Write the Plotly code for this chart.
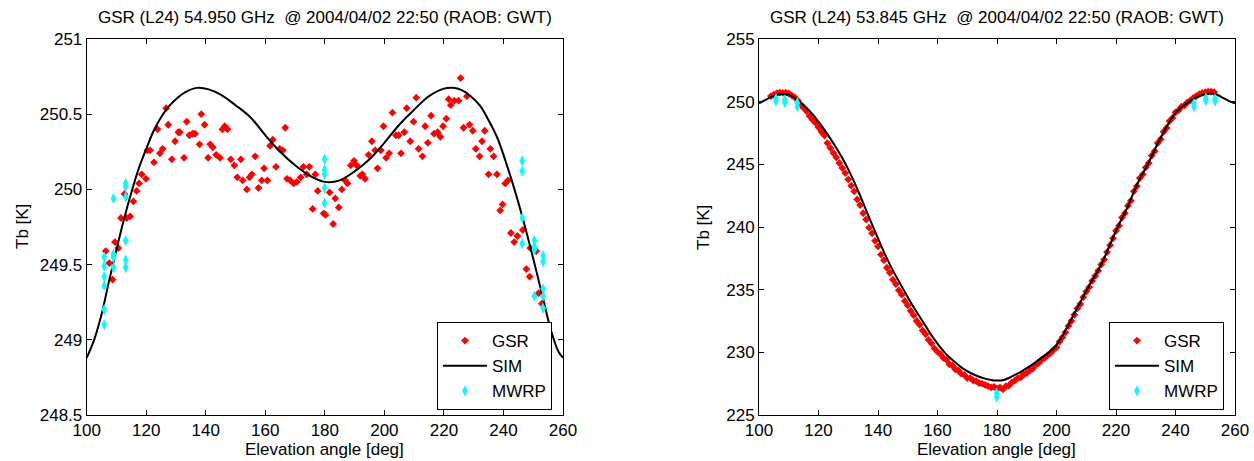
import plotly.graph_objects as go

# ---------------- Left panel: 54.950 GHz ----------------
sim1_x = [100, 102.5, 105, 107.5, 110, 112.5, 115, 117.5, 120, 122.5, 125, 127.5, 130, 133, 137,
          141, 145, 150, 155, 160, 165, 170, 175, 180, 185, 190, 195, 200, 205, 210, 215, 220,
          223, 226, 229, 232, 235, 238, 241, 244, 247, 250, 253, 256, 258.5, 260]
sim1_y = [248.88, 249.0, 249.17, 249.39, 249.6, 249.8, 249.98, 250.14, 250.27, 250.39, 250.48,
          250.55, 250.6, 250.645, 250.675, 250.665, 250.63, 250.56, 250.48, 250.36, 250.25,
          250.16, 250.09, 250.05, 250.06, 250.12, 250.2, 250.31, 250.43, 250.53, 250.62, 250.67,
          250.676, 250.66, 250.62, 250.56, 250.46, 250.34, 250.17, 249.98, 249.77, 249.54, 249.3,
          249.06, 248.92, 248.88]

gsr1_x = [106.4, 107.6, 108.7, 109.5, 110.6, 111.5, 112.7, 113.4, 114.6, 115.7, 116.8, 117.6,
          118.5, 119.9, 120.4, 121.3, 122.6, 123.8, 124.6, 125.5, 126.7, 127.4, 128.6, 129.7,
          130.8, 131.3, 132.7, 133.6, 134.5, 135.6, 136.4, 137.9, 138.5, 139.6, 140.8, 141.5,
          142.4, 143.5, 144.8, 145.6, 146.4, 147.3, 148.4, 149.6, 150.6, 151.8, 152.4, 153.8,
          154.7, 155.5, 156.6, 157.7, 158.8, 159.6, 160.7, 161.6, 162.5, 163.6, 164.8, 165.9,
          166.7, 167.3, 168.4, 169.5, 170.6, 171.9, 172.8, 173.9, 174.8, 175.9, 176.8, 177.6,
          179.6, 180.2, 181.6, 182.8, 183.5, 184.7, 185.7, 186.8, 187.6, 188.7, 189.8, 190.7,
          191.9, 192.6, 193.5, 194.7, 195.8, 196.9, 197.7, 198.8, 199.7, 200.6, 201.6, 202.7,
          203.9, 204.8, 205.6, 206.7, 207.5, 208.7, 209.8, 210.7, 211.5, 212.8, 213.7, 214.6,
          215.7, 216.7, 217.9, 218.8, 219.7, 220.8, 221.6, 222.3, 223.5, 224.9, 225.6, 226.6,
          227.7, 228.6, 229.7, 230.7, 232.0, 232.8, 233.7, 235.0, 235.6, 236.7, 237.8, 238.9,
          239.7, 240.6, 241.5, 242.5, 243.6, 244.7, 246.5, 247.7, 248.8, 249.0, 251.0, 251.8,
          252.9]
gsr1_y = [249.59, 249.51, 249.40, 249.65, 249.61, 249.81, 249.97, 249.81, 249.82, 249.92, 249.99,
          250.04, 250.10, 250.07, 250.26, 250.26, 250.18, 250.40, 250.24, 250.27, 250.54, 250.43,
          250.20, 250.32, 250.38, 250.38, 250.21, 250.45, 250.36, 250.37, 250.37, 250.30, 250.50,
          250.43, 250.21, 250.30, 250.28, 250.23, 250.21, 250.40, 250.42, 250.40, 250.20, 250.16,
          250.08, 250.20, 250.06, 250.00, 250.08, 250.10, 250.22, 250.01, 250.06, 250.14, 250.06,
          250.29, 250.33, 250.15, 250.27, 250.26, 250.41, 250.07, 250.06, 250.04, 250.05, 250.08,
          250.15, 250.10, 250.15, 249.87, 250.10, 249.99, 249.84, 249.83, 249.98, 249.77, 249.94,
          249.88, 250.00, 250.06, 250.04, 250.16, 250.19, 250.16, 250.09, 250.10, 250.07, 250.23,
          250.32, 250.26, 250.14, 250.26, 250.42, 250.21, 250.24, 250.51, 250.36, 250.36, 250.24,
          250.38, 250.54, 250.32, 250.45, 250.61, 250.27, 250.22, 250.42, 250.31, 250.49, 250.37,
          250.38, 250.35, 250.42, 250.47, 250.60, 250.56, 250.59, 250.59, 250.74, 250.41, 250.62,
          250.43, 250.39, 250.27, 250.22, 250.32, 250.39, 250.10, 250.27, 250.22, 250.10, 249.86,
          249.90, 250.04, 250.06, 249.71, 249.65, 249.69, 249.73, 249.47, 249.42, 249.61, 249.59,
          249.31, 249.24]

mwrp1_x = [105.9, 105.9, 105.9, 105.9, 105.9, 105.9, 109.0, 109.0, 109.0, 109.0,
           113.1, 113.1, 113.1, 113.1, 113.1, 113.1, 179.9, 179.9, 179.9, 179.9, 179.9,
           246.3, 246.3, 246.3, 246.3, 250.4, 250.4, 250.4, 250.4, 253.3, 253.3, 253.3, 253.3, 253.3]
mwrp1_y = [249.55, 249.49, 249.42, 249.36, 249.20, 249.10, 249.94, 249.57, 249.55, 249.48,
           250.04, 250.02, 249.95, 249.66, 249.53, 249.48, 250.20, 250.13, 250.10, 250.01, 249.91,
           250.19, 250.12, 249.81, 249.64, 249.66, 249.62, 249.60, 249.29, 249.56, 249.52, 249.34,
           249.29, 249.21]

# ---------------- Right panel: 53.845 GHz ----------------
sim2_x = [100, 103, 106, 108, 110, 112, 114, 116, 118, 120, 122, 124, 126, 128, 130, 132, 134,
          136, 138, 140, 142, 144, 146, 148, 150, 152, 154, 156, 158, 160, 162, 164, 166, 168,
          170, 172, 174, 176, 178, 180, 182, 184, 186, 188, 190, 192, 194, 196, 198, 200, 202,
          204, 206, 208, 210, 212, 214, 216, 218, 220, 222, 224, 226, 228, 230, 232, 234, 236,
          238, 240, 242, 244, 246, 248, 250, 252, 254, 256, 258, 260]
sim2_y = [249.87, 250.25, 250.55, 250.62, 250.55, 250.3, 249.95, 249.5, 249.0, 248.4, 247.75,
          247.05, 246.3, 245.5, 244.6, 243.6, 242.5, 241.35, 240.2, 239.1, 238.0, 237.0, 236.1,
          235.25, 234.4, 233.6, 232.85, 232.1, 231.35, 230.7, 230.1, 229.6, 229.2, 228.8, 228.5,
          228.25, 228.05, 227.9, 227.8, 227.75, 227.78, 227.95, 228.2, 228.45, 228.75, 229.05,
          229.4, 229.75, 230.1, 230.6, 231.3, 232.2, 233.1, 234.0, 234.9, 235.75, 236.55, 237.5,
          238.6, 239.7, 240.7, 241.65, 242.8, 243.85, 244.7, 245.65, 246.65, 247.55, 248.4,
          249.1, 249.55, 249.9, 250.2, 250.45, 250.6, 250.65, 250.55, 250.3, 250.05, 249.87]

gsr2_x = list(range(104, 254))
gsr2_y = [250.45, 250.55, 250.68, 250.72, 250.70, 250.72, 250.65, 250.50, 250.35, 250.10,
          249.75, 249.50, 249.25, 248.85, 248.55, 248.30, 247.95, 247.60, 247.30, 246.70,
          246.30, 245.90, 245.55, 245.10, 244.70, 244.30, 243.80, 243.30, 242.85, 242.20,
          241.75, 241.10, 240.60, 239.95, 239.50, 238.90, 238.45, 237.80, 237.35, 236.75,
          236.35, 235.80, 235.45, 234.95, 234.60, 234.10, 233.75, 233.30, 232.95, 232.50,
          232.20, 231.75, 231.45, 231.00, 230.70, 230.30, 230.05, 229.85, 229.55, 229.40,
          229.05, 228.95, 228.65, 228.55, 228.30, 228.20, 227.95, 227.95, 227.75, 227.70,
          227.55, 227.50, 227.40, 227.30, 227.20, 227.25, 227.10, 227.20, 227.05, 227.30,
          227.35, 227.60, 227.75, 227.95, 228.00, 228.25, 228.35, 228.55, 228.70, 229.00,
          229.15, 229.40, 229.55, 229.75, 229.95, 230.20, 230.40, 230.85, 231.20, 231.60,
          232.10, 232.50, 233.00, 233.50, 233.85, 234.40, 234.85, 235.20, 235.70, 236.10,
          236.50, 237.00, 237.40, 238.00, 238.55, 239.10, 239.70, 240.10, 240.75, 241.10,
          241.70, 242.10, 242.85, 243.25, 243.90, 244.20, 244.75, 245.10, 245.70, 246.05,
          246.70, 247.00, 247.60, 247.90, 248.45, 248.70, 249.15, 249.30, 249.60, 249.70,
          249.95, 250.10, 250.30, 250.45, 250.60, 250.70, 250.75, 250.80, 250.80, 250.75]

mwrp2_x = [105.7, 105.7, 108.7, 108.7, 112.9, 112.9, 179.9, 179.9, 246.2, 246.2, 250.2, 250.2,
           253.3, 253.3]
mwrp2_y = [250.25, 250.05, 250.15, 249.95, 249.92, 249.60, 226.75, 226.45, 249.85, 249.60,
           250.30, 250.10, 250.25, 250.05]

titles = ["GSR (L24) 54.950 GHz  @ 2004/04/02 22:50 (RAOB: GWT)",
          "GSR (L24) 53.845 GHz  @ 2004/04/02 22:50 (RAOB: GWT)"]
xlabel = "Elevation angle [deg]"
ylabel = "Tb [K]"
x_ticks = [100, 120, 140, 160, 180, 200, 220, 240, 260]
y1_ticks = [248.5, 249, 249.5, 250, 250.5, 251]
y1_ticklabels = ["248.5", "249", "249.5", "250", "250.5", "251"]
y2_ticks = [225, 230, 235, 240, 245, 250, 255]

RED = "#ff0000"
CYAN = "#00ffff"
FONT = "Liberation Sans, Arial, sans-serif"
W, H = 1254, 461

fig = go.Figure()
for (gx, gy, sx, sy, mx, my, xa, ya, lg) in [
        (gsr1_x, gsr1_y, sim1_x, sim1_y, mwrp1_x, mwrp1_y, "x", "y", "legend"),
        (gsr2_x, gsr2_y, sim2_x, sim2_y, mwrp2_x, mwrp2_y, "x2", "y2", "legend2")]:
    fig.add_trace(go.Scatter(x=gx, y=gy, mode="markers", name="GSR", xaxis=xa, yaxis=ya,
                             legend=lg, marker=dict(symbol="diamond", size=6, color=RED)))
    fig.add_trace(go.Scatter(x=sx, y=sy, mode="lines", name="SIM", xaxis=xa, yaxis=ya,
                             legend=lg, line=dict(color="black", width=2, shape="spline")))
    fig.add_trace(go.Scatter(x=mx, y=my, mode="markers", name="MWRP", xaxis=xa, yaxis=ya,
                             legend=lg, marker=dict(symbol="diamond-tall", size=8, color=CYAN)))

# pixel geometry of the two axes boxes
L1, R1 = 86.7, 563.0
L2, R2 = 759.0, 1235.0
TOP, BOT = 39.0, 415.0

def px(xp):
    return xp / W

def py(yp):
    return 1 - yp / H

axis_common = dict(showline=True, linecolor="black", linewidth=1, mirror="ticks",
                   ticks="inside", ticklen=5, tickcolor="black", showgrid=False,
                   zeroline=False, automargin=False,
                   tickfont=dict(family=FONT, size=17, color="black"))

legend_common = dict(xanchor="right", yanchor="bottom", bordercolor="black", borderwidth=1,
                     bgcolor="white", font=dict(family=FONT, size=17, color="black"),
                     itemwidth=44, tracegroupgap=0)

fig.update_layout(
    template="none",
    width=W, height=H, margin=dict(l=0, r=0, t=0, b=0, pad=0, autoexpand=False),
    paper_bgcolor="white", plot_bgcolor="white",
    font=dict(family=FONT, size=17, color="black"),
    xaxis=dict(domain=[px(L1), px(R1)], range=[100, 260], tickvals=x_ticks, anchor="y",
               **axis_common),
    yaxis=dict(domain=[py(BOT), py(TOP)], range=[248.5, 251], tickvals=y1_ticks,
               ticktext=y1_ticklabels, anchor="x", **axis_common),
    xaxis2=dict(domain=[px(L2), px(R2)], range=[100, 260], tickvals=x_ticks, anchor="y2",
                **axis_common),
    yaxis2=dict(domain=[py(BOT), py(TOP)], range=[225, 255], tickvals=y2_ticks, anchor="x2",
                **axis_common),
    legend=dict(x=px(552), y=py(410), **legend_common),
    legend2=dict(x=px(1224), y=py(410), **legend_common),
)

annotations = []
for (cx, t) in [((L1 + R1) / 2, titles[0]), ((L2 + R2) / 2, titles[1])]:
    annotations.append(dict(x=px(cx), y=py(17), xref="paper", yref="paper", text=t,
                            showarrow=False, xanchor="center", yanchor="middle",
                            font=dict(family=FONT, size=17, color="black")))
    annotations.append(dict(x=px(cx), y=py(449), xref="paper", yref="paper", text=xlabel,
                            showarrow=False, xanchor="center", yanchor="middle",
                            font=dict(family=FONT, size=17, color="black")))
for lx in [22, 703]:
    annotations.append(dict(x=px(lx), y=py((TOP + BOT) / 2), xref="paper", yref="paper",
                            text=ylabel, showarrow=False, textangle=-90, xanchor="center",
                            yanchor="middle",
                            font=dict(family=FONT, size=17, color="black")))
fig.update_layout(annotations=annotations)

fig.write_html("out.html", config={"displayModeBar": False},
               post_script="document.body.style.margin='0px';"
                           "document.body.style.overflow='hidden';")
